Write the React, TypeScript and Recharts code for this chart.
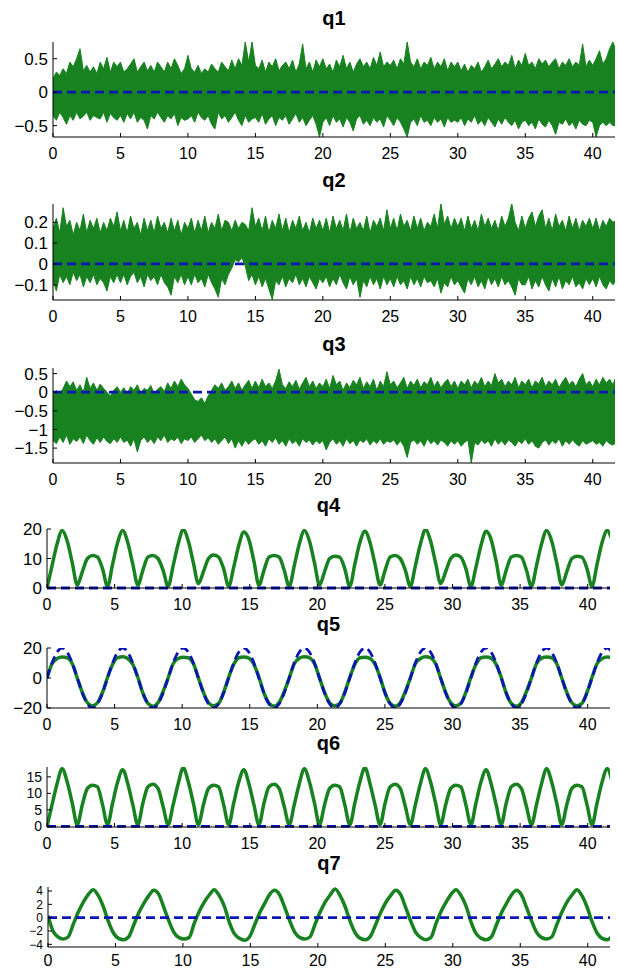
import { Area, ComposedChart, Line, ReferenceLine, XAxis, YAxis } from "recharts"

// sample times (s) for the smooth joints q4..q7, ~12 samples per 4.48 s period
const T = [
  0, 0.37, 0.75, 1.12, 1.49, 1.87, 2.24, 2.61, 2.99, 3.36, 3.73, 4.11,
  4.48, 4.85, 5.23, 5.6, 5.97, 6.35, 6.72, 7.09, 7.47, 7.84, 8.21, 8.59,
  8.96, 9.33, 9.71, 10.08, 10.45, 10.83, 11.2, 11.57, 11.95, 12.32, 12.69, 13.07,
  13.44, 13.81, 14.19, 14.56, 14.93, 15.31, 15.68, 16.05, 16.43, 16.8, 17.17, 17.55,
  17.92, 18.29, 18.67, 19.04, 19.41, 19.79, 20.16, 20.53, 20.91, 21.28, 21.65, 22.03,
  22.4, 22.77, 23.15, 23.52, 23.89, 24.27, 24.64, 25.01, 25.39, 25.76, 26.13, 26.51,
  26.88, 27.25, 27.63, 28.0, 28.37, 28.75, 29.12, 29.49, 29.87, 30.24, 30.61, 30.99,
  31.36, 31.73, 32.11, 32.48, 32.85, 33.23, 33.6, 33.97, 34.35, 34.72, 35.09, 35.47,
  35.84, 36.21, 36.59, 36.96, 37.33, 37.71, 38.08, 38.45, 38.83, 39.2, 39.57, 39.95,
  40.32, 40.69, 41.07, 41.44, 41.81,
]

// sample times for the noisy joints q1..q3 (0.25 s)
const TN = [
  0, 0.25, 0.5, 0.75, 1, 1.25, 1.5, 1.75, 2, 2.25, 2.5, 2.75, 3, 3.25, 3.5, 3.75, 4, 4.25, 4.5, 4.75,
  5, 5.25, 5.5, 5.75, 6, 6.25, 6.5, 6.75, 7, 7.25, 7.5, 7.75, 8, 8.25, 8.5, 8.75, 9, 9.25, 9.5, 9.75,
  10, 10.25, 10.5, 10.75, 11, 11.25, 11.5, 11.75, 12, 12.25, 12.5, 12.75, 13, 13.25, 13.5, 13.75, 14, 14.25, 14.5, 14.75,
  15, 15.25, 15.5, 15.75, 16, 16.25, 16.5, 16.75, 17, 17.25, 17.5, 17.75, 18, 18.25, 18.5, 18.75, 19, 19.25, 19.5, 19.75,
  20, 20.25, 20.5, 20.75, 21, 21.25, 21.5, 21.75, 22, 22.25, 22.5, 22.75, 23, 23.25, 23.5, 23.75, 24, 24.25, 24.5, 24.75,
  25, 25.25, 25.5, 25.75, 26, 26.25, 26.5, 26.75, 27, 27.25, 27.5, 27.75, 28, 28.25, 28.5, 28.75, 29, 29.25, 29.5, 29.75,
  30, 30.25, 30.5, 30.75, 31, 31.25, 31.5, 31.75, 32, 32.25, 32.5, 32.75, 33, 33.25, 33.5, 33.75, 34, 34.25, 34.5, 34.75,
  35, 35.25, 35.5, 35.75, 36, 36.25, 36.5, 36.75, 37, 37.25, 37.5, 37.75, 38, 38.25, 38.5, 38.75, 39, 39.25, 39.5, 39.75,
  40, 40.25, 40.5, 40.75, 41, 41.25, 41.5, 41.75,
]

// q1..q3: upper / lower envelope of the noisy signal
const q1Hi = [
  0.2, 0.3, 0.25, 0.35, 0.28, 0.45, 0.38, 0.5, 0.65, 0.32, 0.4, 0.3, 0.38, 0.28, 0.45, 0.35, 0.52, 0.3, 0.45, 0.38,
  0.45, 0.3, 0.35, 0.42, 0.5, 0.3, 0.38, 0.45, 0.32, 0.4, 0.3, 0.45, 0.38, 0.3, 0.45, 0.35, 0.5, 0.4, 0.28, 0.35,
  0.55, 0.35, 0.3, 0.4, 0.28, 0.35, 0.3, 0.42, 0.35, 0.3, 0.45, 0.38, 0.32, 0.48, 0.35, 0.5, 0.4, 0.75, 0.45, 0.75,
  0.4, 0.35, 0.48, 0.3, 0.45, 0.38, 0.5, 0.32, 0.4, 0.45, 0.35, 0.48, 0.3, 0.42, 0.72, 0.35, 0.45, 0.3, 0.48, 0.38,
  0.5, 0.35, 0.42, 0.3, 0.48, 0.38, 0.55, 0.35, 0.45, 0.3, 0.42, 0.5, 0.38, 0.45, 0.35, 0.52, 0.4, 0.6, 0.38, 0.45,
  0.4, 0.48, 0.35, 0.5, 0.42, 0.75, 0.45, 0.38, 0.5, 0.35, 0.45, 0.4, 0.52, 0.35, 0.45, 0.38, 0.5, 0.32, 0.45, 0.38,
  0.45, 0.32, 0.42, 0.3, 0.4, 0.35, 0.45, 0.3, 0.38, 0.48, 0.35, 0.42, 0.5, 0.38, 0.45, 0.4, 0.55, 0.35, 0.48, 0.4,
  0.58, 0.4, 0.45, 0.35, 0.5, 0.42, 0.48, 0.38, 0.45, 0.5, 0.35, 0.45, 0.4, 0.5, 0.38, 0.45, 0.4, 0.72, 0.38, 0.48,
  0.4, 0.5, 0.62, 0.42, 0.5, 0.65, 0.75, 0.6,
]
const q1Lo = [
  -0.35, -0.42, -0.3, -0.38, -0.48, -0.35, -0.42, -0.3, -0.4, -0.36, -0.3, -0.42, -0.35, -0.38, -0.4, -0.3, -0.45, -0.32, -0.38, -0.42,
  -0.35, -0.45, -0.32, -0.4, -0.3, -0.45, -0.38, -0.42, -0.55, -0.35, -0.4, -0.3, -0.38, -0.45, -0.35, -0.4, -0.32, -0.5, -0.38, -0.42,
  -0.4, -0.35, -0.45, -0.3, -0.38, -0.42, -0.35, -0.48, -0.55, -0.3, -0.4, -0.35, -0.45, -0.38, -0.3, -0.42, -0.5, -0.35, -0.45, -0.4,
  -0.38, -0.45, -0.32, -0.48, -0.4, -0.35, -0.5, -0.38, -0.42, -0.35, -0.48, -0.4, -0.32, -0.45, -0.38, -0.5, -0.42, -0.35, -0.48, -0.67,
  -0.45, -0.38, -0.5, -0.35, -0.45, -0.4, -0.52, -0.38, -0.45, -0.58, -0.4, -0.35, -0.48, -0.42, -0.5, -0.38, -0.45, -0.4, -0.52, -0.35,
  -0.42, -0.5, -0.38, -0.45, -0.55, -0.67, -0.45, -0.4, -0.5, -0.35, -0.45, -0.42, -0.5, -0.38, -0.45, -0.4, -0.52, -0.38, -0.45, -0.42,
  -0.45, -0.38, -0.5, -0.4, -0.45, -0.35, -0.48, -0.42, -0.5, -0.38, -0.45, -0.52, -0.4, -0.48, -0.38, -0.45, -0.5, -0.42, -0.55, -0.45,
  -0.42, -0.5, -0.45, -0.55, -0.4, -0.48, -0.52, -0.42, -0.5, -0.63, -0.45, -0.48, -0.4, -0.5, -0.45, -0.55, -0.42, -0.48, -0.5, -0.42,
  -0.45, -0.67, -0.5, -0.45, -0.5, -0.45, -0.5, -0.5,
]

const q2Hi = [
  0.17, 0.22, 0.15, 0.27, 0.18, 0.21, 0.14, 0.2, 0.16, 0.24, 0.15, 0.21, 0.17, 0.22, 0.15, 0.2, 0.16, 0.22, 0.18, 0.25,
  0.16, 0.21, 0.15, 0.23, 0.17, 0.2, 0.14, 0.22, 0.16, 0.21, 0.15, 0.23, 0.17, 0.2, 0.15, 0.22, 0.16, 0.21, 0.14, 0.2,
  0.17, 0.22, 0.15, 0.21, 0.16, 0.23, 0.15, 0.2, 0.17, 0.24, 0.16, 0.21, 0.2, 0.16, 0.21, 0.17, 0.2, 0.19, 0.16, 0.27,
  0.18, 0.22, 0.16, 0.23, 0.15, 0.21, 0.17, 0.24, 0.16, 0.22, 0.15, 0.21, 0.17, 0.23, 0.16, 0.2, 0.15, 0.22, 0.17, 0.21,
  0.16, 0.22, 0.15, 0.23, 0.17, 0.21, 0.16, 0.24, 0.15, 0.22, 0.17, 0.2, 0.16, 0.23, 0.15, 0.21, 0.18, 0.22, 0.16, 0.26,
  0.17, 0.22, 0.16, 0.24, 0.18, 0.21, 0.16, 0.23, 0.17, 0.22, 0.16, 0.2, 0.18, 0.24, 0.17, 0.29, 0.19, 0.23, 0.17, 0.22,
  0.18, 0.22, 0.16, 0.23, 0.17, 0.21, 0.16, 0.24, 0.18, 0.22, 0.17, 0.21, 0.16, 0.23, 0.18, 0.22, 0.29, 0.2, 0.16, 0.23,
  0.17, 0.22, 0.25, 0.18, 0.23, 0.26, 0.17, 0.22, 0.16, 0.24, 0.18, 0.21, 0.16, 0.23, 0.17, 0.22, 0.16, 0.21, 0.18, 0.22,
  0.17, 0.22, 0.16, 0.21, 0.18, 0.22, 0.2, 0.21,
]
const q2Lo = [
  -0.08, -0.13, -0.05, -0.09, -0.06, -0.1, -0.04, -0.08, -0.05, -0.11, -0.06, -0.09, -0.05, -0.1, -0.07, -0.09, -0.13, -0.06, -0.09, -0.05,
  -0.09, -0.05, -0.1, -0.06, -0.04, -0.09, -0.06, -0.11, -0.05, -0.08, -0.06, -0.1, -0.05, -0.09, -0.11, -0.15, -0.06, -0.09, -0.05, -0.1,
  -0.06, -0.1, -0.05, -0.09, -0.07, -0.11, -0.05, -0.09, -0.12, -0.16, -0.07, -0.1, -0.05, -0.02, 0.02, 0.01, 0.03, -0.01, -0.08, -0.05,
  -0.1, -0.06, -0.11, -0.07, -0.12, -0.17, -0.08, -0.1, -0.06, -0.11, -0.07, -0.09, -0.05, -0.1, -0.07, -0.11, -0.06, -0.09, -0.12, -0.07,
  -0.09, -0.06, -0.11, -0.07, -0.1, -0.05, -0.09, -0.12, -0.06, -0.1, -0.07, -0.16, -0.08, -0.11, -0.06, -0.1, -0.07, -0.12, -0.06, -0.1,
  -0.07, -0.11, -0.06, -0.1, -0.08, -0.12, -0.06, -0.1, -0.07, -0.11, -0.06, -0.09, -0.08, -0.11, -0.07, -0.14, -0.09, -0.11, -0.06, -0.1,
  -0.08, -0.11, -0.14, -0.07, -0.1, -0.06, -0.11, -0.08, -0.12, -0.06, -0.1, -0.07, -0.11, -0.06, -0.1, -0.08, -0.11, -0.15, -0.07, -0.1,
  -0.1, -0.06, -0.12, -0.08, -0.11, -0.06, -0.1, -0.13, -0.07, -0.11, -0.06, -0.12, -0.08, -0.1, -0.06, -0.11, -0.09, -0.12, -0.07, -0.1,
  -0.07, -0.11, -0.06, -0.1, -0.12, -0.08, -0.1, -0.08,
]

const q3Hi = [
  -0.1, 0.05, -0.05, 0.1, 0.3, 0.15, 0.28, 0.05, 0.2, 0.0, 0.4, 0.1, 0.25, 0.05, 0.22, 0.1, 0.0, -0.1, 0.05, 0.15,
  0.0, 0.12, -0.05, 0.15, 0.05, 0.2, -0.02, 0.1, 0.05, 0.18, -0.05, 0.08, 0.15, 0.02, 0.25, 0.1, 0.3, 0.15, 0.35, 0.2,
  0.1, -0.05, -0.2, -0.25, -0.15, -0.3, -0.1, 0.05, 0.2, 0.1, 0.25, 0.05, 0.15, 0.3, 0.1, 0.25, 0.05, 0.2, 0.32, 0.1,
  0.3, 0.12, 0.35, 0.15, 0.25, 0.1, 0.3, 0.62, 0.2, 0.1, 0.28, 0.15, 0.32, 0.08, 0.25, 0.4, 0.15, 0.3, 0.1, 0.25,
  0.15, 0.35, 0.1, 0.45, 0.2, 0.3, 0.05, 0.25, 0.12, 0.32, 0.2, 0.4, 0.1, 0.28, 0.15, 0.35, 0.05, 0.3, 0.15, 0.55,
  0.2, 0.3, 0.12, 0.25, 0.4, 0.1, 0.3, 0.18, 0.35, 0.12, 0.28, 0.2, 0.4, 0.15, 0.3, 0.12, 0.25, 0.35, 0.15, 0.3,
  0.1, 0.3, 0.2, 0.35, 0.12, 0.3, 0.2, 0.4, 0.15, 0.3, 0.18, 0.5, 0.25, 0.35, 0.15, 0.3, 0.2, 0.4, 0.12, 0.3,
  0.2, 0.35, 0.12, 0.3, 0.22, 0.4, 0.15, 0.3, 0.2, 0.35, 0.12, 0.28, 0.4, 0.2, 0.3, 0.15, 0.35, 0.5, 0.2, 0.3,
  0.15, 0.35, 0.2, 0.4, 0.25, 0.35, 0.2, 0.45,
]
const q3Lo = [
  -1.3, -1.38, -1.2, -1.35, -1.15, -1.4, -1.25, -1.32, -1.2, -1.38, -1.15, -1.3, -1.4, -1.22, -1.35, -1.2, -1.32, -1.38, -1.25, -1.35,
  -1.2, -1.35, -1.28, -1.45, -1.25, -1.6, -1.3, -1.2, -1.35, -1.25, -1.38, -1.2, -1.3, -1.15, -1.35, -1.25, -1.3, -1.2, -1.38, -1.25,
  -1.3, -1.2, -1.35, -1.25, -1.15, -1.3, -1.22, -1.35, -1.25, -1.4, -1.3, -1.2, -1.38, -1.25, -1.5, -1.3, -1.45, -1.28, -1.4, -1.3,
  -1.25, -1.4, -1.3, -1.45, -1.25, -1.35, -1.22, -1.4, -1.3, -1.45, -1.25, -1.38, -1.3, -1.45, -1.25, -1.35, -1.28, -1.42, -1.3, -1.38,
  -1.3, -1.55, -1.35, -1.25, -1.4, -1.3, -1.45, -1.25, -1.38, -1.3, -1.45, -1.28, -1.35, -1.25, -1.42, -1.3, -1.38, -1.25, -1.4, -1.3,
  -1.35, -1.28, -1.42, -1.3, -1.45, -1.75, -1.35, -1.28, -1.4, -1.3, -1.45, -1.25, -1.38, -1.3, -1.42, -1.28, -1.35, -1.45, -1.3, -1.4,
  -1.3, -1.45, -1.35, -1.28, -1.9, -1.35, -1.42, -1.28, -1.38, -1.3, -1.45, -1.25, -1.4, -1.3, -1.42, -1.28, -1.35, -1.45, -1.3, -1.38,
  -1.25, -1.4, -1.3, -1.45, -1.5, -1.35, -1.28, -1.42, -1.3, -1.38, -1.25, -1.45, -1.3, -1.4, -1.28, -1.38, -1.45, -1.3, -1.4, -1.35,
  -1.3, -1.4, -1.35, -1.45, -1.3, -1.38, -1.42, -1.35,
]

// q4..q7: measured joint value (green)
const q4 = [
  0, 7.5, 15, 19.5, 16, 8.5, 1, 5.5, 10, 11, 10.5, 6.5,
  0.5, 8, 15.5, 19.5, 15.5, 8, 1, 6, 10.5, 11, 10, 6,
  0.5, 7.5, 15, 19.8, 16, 8.5, 1.5, 5.5, 10, 11.2, 10.5, 6.5,
  0.5, 7, 14.5, 19, 16.5, 9, 1, 6, 10.5, 11, 10.5, 6,
  0.5, 7.5, 15, 19.5, 16, 8.5, 1, 5.5, 10, 10.8, 10.5, 6.5,
  0.5, 8, 15.5, 19.2, 15.5, 8, 1, 6, 10.5, 11, 10, 6,
  0.5, 7.5, 15, 19.8, 16, 8.5, 1.5, 5.5, 10, 11.2, 10.5, 6.5,
  0.5, 7, 14.5, 19.2, 16.5, 9, 1, 6, 10.5, 11, 10.5, 6,
  0.5, 7.5, 15, 19.5, 16, 8.5, 1, 5.5, 10, 10.8, 10.5, 6.5,
  0.5, 8, 15.5, 19.5, 16,
]
const q5 = [
  0, 9.5, 13, 14, 13.5, 9.5, 0, -9.5, -16.5, -18.5, -16.5, -9.5,
  0.5, 9, 13.5, 14.2, 13, 9, 0.5, -10, -17, -18.8, -16.5, -9,
  0, 9.5, 13, 13.8, 13.5, 9.5, 0, -9.5, -16.5, -18.5, -17, -9.5,
  0.5, 9, 13.5, 14, 13.2, 9, 0.5, -10, -17, -18.8, -16.5, -9,
  0, 9.5, 13.2, 14.2, 13.5, 9.5, 0, -9.5, -16.5, -18.5, -17, -9.5,
  0.5, 9, 13.5, 13.8, 13, 9, 0.5, -10, -17, -18.8, -16.5, -9,
  0, 9.5, 13, 14.2, 13.5, 9.5, 0, -9.5, -16.5, -18.5, -17, -9.5,
  0.5, 9, 13.5, 14, 13.2, 9, 0.5, -10, -17, -18.8, -16.5, -9,
  0, 9.5, 13.2, 14, 13.5, 9.5, 0, -9.5, -16.5, -18.5, -17, -9.5,
  0.5, 9.5, 13, 14, 13.5,
]
const q6 = [
  0, 6.5, 13, 17.5, 13.5, 7, 0.5, 6.5, 11.5, 12.5, 12, 6.5,
  0.5, 7, 13.5, 17.2, 13, 6.5, 0.5, 7, 12, 12.8, 11.5, 6,
  0.5, 6.5, 13, 17.8, 13.5, 7, 0.5, 6.5, 11.5, 12.5, 12, 6.5,
  0.5, 7, 13.5, 17.2, 13, 6.5, 0.5, 7, 12, 12.8, 11.5, 6,
  0.5, 6.5, 13, 17.5, 13.5, 7, 0.5, 6.5, 11.5, 12.5, 12, 6.5,
  0.5, 7, 13.5, 17.8, 13, 6.5, 0.5, 7, 12, 12.8, 11.5, 6,
  0.5, 6.5, 13, 17.5, 13.5, 7, 0.5, 6.5, 11.5, 12.5, 12, 6.5,
  0.5, 7, 13.5, 17.2, 13, 6.5, 0.5, 7, 12, 12.8, 11.5, 6,
  0.5, 6.5, 13, 17.5, 13.5, 7, 0.5, 6.5, 11.5, 12.5, 12, 6.5,
  0.5, 7, 13.5, 17.5, 13.5,
]
const q7 = [
  0.3, -2, -2.9, -3.2, -2.9, -1, 0.8, 2.3, 3.5, 4.2, 3.3, 1.6,
  -0.6, -2.3, -3.1, -3.3, -2.9, -1.1, 0.7, 2.1, 3.3, 4.1, 3.5, 1.5,
  -0.5, -2.2, -3.0, -3.2, -3.0, -0.9, 0.9, 2.3, 3.4, 4.2, 3.3, 1.7,
  -0.7, -2.4, -3.1, -3.4, -2.9, -1.1, 0.7, 2.1, 3.5, 4.1, 3.4, 1.5,
  -0.5, -2.2, -3.0, -3.2, -2.9, -1, 0.8, 2.3, 3.4, 4.3, 3.3, 1.6,
  -0.6, -2.3, -3.1, -3.3, -2.8, -1.1, 0.7, 2.2, 3.3, 4.1, 3.5, 1.5,
  -0.5, -2.2, -3.0, -3.3, -3.0, -0.9, 0.9, 2.3, 3.5, 4.2, 3.3, 1.7,
  -0.7, -2.4, -3.1, -3.3, -2.9, -1.1, 0.7, 2.1, 3.4, 4.1, 3.4, 1.5,
  -0.5, -2.2, -3.0, -3.2, -2.9, -1, 0.8, 2.3, 3.4, 4.2, 3.3, 1.6,
  -0.6, -2.3, -3.1, -3.3, -2.8,
]
// q5 reference trajectory (blue dashed); the others track zero
const q5Ref = [
  0, 10, 17.3, 20, 17.3, 10, 0, -10, -17.3, -20, -17.3, -10,
  0, 10, 17.3, 20, 17.3, 10, 0, -10, -17.3, -20, -17.3, -10,
  0, 10, 17.3, 20, 17.3, 10, 0, -10, -17.3, -20, -17.3, -10,
  0, 10, 17.3, 20, 17.3, 10, 0, -10, -17.3, -20, -17.3, -10,
  0, 10, 17.3, 20, 17.3, 10, 0, -10, -17.3, -20, -17.3, -10,
  0, 10, 17.3, 20, 17.3, 10, 0, -10, -17.3, -20, -17.3, -10,
  0, 10, 17.3, 20, 17.3, 10, 0, -10, -17.3, -20, -17.3, -10,
  0, 10, 17.3, 20, 17.3, 10, 0, -10, -17.3, -20, -17.3, -10,
  0, 10, 17.3, 20, 17.3, 10, 0, -10, -17.3, -20, -17.3, -10,
  0, 10, 17.3, 20, 17.3,
]

const xTicks = [0, 5, 10, 15, 20, 25, 30, 35, 40]
const X_MAX = 41.65

const GREEN = "#17821f"
const BLUE = "#0a16b4"
const FONT = "'Liberation Sans', Arial, Helvetica, sans-serif"

const fmt = (v: number) => String(v).replace("-", "\u2212")

type PanelProps = {
  title: string
  top: number
  left: number
  right: number
  bottom: number
  domain: [number, number]
  yTicks: number[]
  yFont?: number
  xGap?: number
  axisH?: number
  time: number[]
  hi?: number[]
  lo?: number[]
  green?: number[]
  ref?: number[]
}

function Panel({
  title, top, left, right, bottom, domain, yTicks, yFont = 17, xGap = 15, axisH = 30,
  time, hi, lo, green, ref,
}: PanelProps) {
  const rows = time.map((t, i) => ({
    t,
    band: hi && lo ? [lo[i], hi[i]] : undefined,
    g: green ? green[i] : undefined,
    r: ref ? ref[i] : undefined,
  }))
  const h = bottom - top + 10 + axisH

  return (
    <>
      <div
        style={{
          position: "absolute",
          left: left,
          width: right - left,
          top: top - 34,
          textAlign: "center",
          fontWeight: "bold",
          fontSize: 20,
          lineHeight: "20px",
        }}
      >
        {title}
      </div>
      <div style={{ position: "absolute", left: 0, top: top - 10, height: h, overflow: "hidden" }}>
        <ComposedChart
          width={618}
          height={h}
          data={rows}
          margin={{ top: 10, right: 618 - right, bottom: 0, left: 0 }}
        >
          <XAxis
            dataKey="t"
            type="number"
            domain={[0, X_MAX]}
            ticks={xTicks}
            interval={0}
            allowDataOverflow
            height={axisH}
            tickSize={-4}
            tickMargin={xGap}
            axisLine={{ stroke: "#000" }}
            tickLine={{ stroke: "#000" }}
            tick={{ fill: "#000", fontSize: 16 }}
          />
          <XAxis
            xAxisId="top"
            dataKey="t"
            type="number"
            orientation="top"
            domain={[0, X_MAX]}
            ticks={xTicks}
            interval={0}
            allowDataOverflow
            height={0}
            mirror
            tick={false}
            tickSize={4}
            axisLine={{ stroke: "#000" }}
            tickLine={{ stroke: "#000" }}
          />
          <YAxis
            type="number"
            domain={domain}
            ticks={yTicks}
            interval={0}
            allowDataOverflow
            width={left}
            tickSize={-4}
            tickMargin={9}
            tickFormatter={fmt}
            axisLine={{ stroke: "#000" }}
            tickLine={{ stroke: "#000" }}
            tick={{ fill: "#000", fontSize: yFont }}
          />
          <YAxis
            yAxisId="right"
            type="number"
            orientation="right"
            domain={domain}
            ticks={yTicks}
            interval={0}
            allowDataOverflow
            width={0}
            mirror
            tick={false}
            tickSize={4}
            axisLine={{ stroke: "#000" }}
            tickLine={{ stroke: "#000" }}
          />
          {hi && lo && (
            <Area
              dataKey="band"
              type="linear"
              fill={GREEN}
              fillOpacity={1}
              stroke={GREEN}
              strokeWidth={1}
              isAnimationActive={false}
            />
          )}
          {green && (
            <Line
              dataKey="g"
              type="monotone"
              stroke={GREEN}
              strokeWidth={3.5}
              dot={false}
              isAnimationActive={false}
            />
          )}
          {ref ? (
            <Line
              dataKey="r"
              type="monotone"
              stroke={BLUE}
              strokeWidth={2.8}
              strokeDasharray="9 5"
              dot={false}
              isAnimationActive={false}
            />
          ) : (
            <ReferenceLine y={0} stroke={BLUE} strokeWidth={2.8} strokeDasharray="9 5" />
          )}
        </ComposedChart>
      </div>
    </>
  )
}

export default function App() {
  return (
    <div
      style={{
        position: "absolute",
        left: 0,
        top: 0,
        width: 618,
        height: 971,
        overflow: "hidden",
        background: "#fff",
        fontFamily: FONT,
        color: "#000",
      }}
    >
      <Panel title="q1" top={42} left={53} right={615} bottom={137} domain={[-0.67, 0.75]} yTicks={[-0.5, 0, 0.5]} time={TN} hi={q1Hi} lo={q1Lo} />
      <Panel title="q2" top={204} left={53} right={615} bottom={300} domain={[-0.173, 0.288]} yTicks={[-0.1, 0, 0.1, 0.2]} time={TN} hi={q2Hi} lo={q2Lo} />
      <Panel title="q3" top={368} left={53} right={615} bottom={463} domain={[-1.9, 0.65]} yTicks={[-1.5, -1, -0.5, 0, 0.5]} time={TN} hi={q3Hi} lo={q3Lo} />
      <Panel title="q4" top={529} left={47} right={610} bottom={588} domain={[0, 20]} yTicks={[0, 10, 20]} time={T} green={q4} />
      <Panel title="q5" top={648} left={47} right={610} bottom={708} domain={[-20, 20]} yTicks={[-20, 0, 20]} time={T} green={q5} ref={q5Ref} />
      <Panel title="q6" top={767} left={47} right={610} bottom={827} domain={[-0.2, 18]} yTicks={[0, 5, 10, 15]} yFont={14} time={T} green={q6} />
      <Panel title="q7" top={887} left={48} right={610} bottom={947} domain={[-4.4, 4.6]} yTicks={[-4, -2, 0, 2, 4]} yFont={12} xGap={12} axisH={24} time={T} green={q7} />
    </div>
  )
}
